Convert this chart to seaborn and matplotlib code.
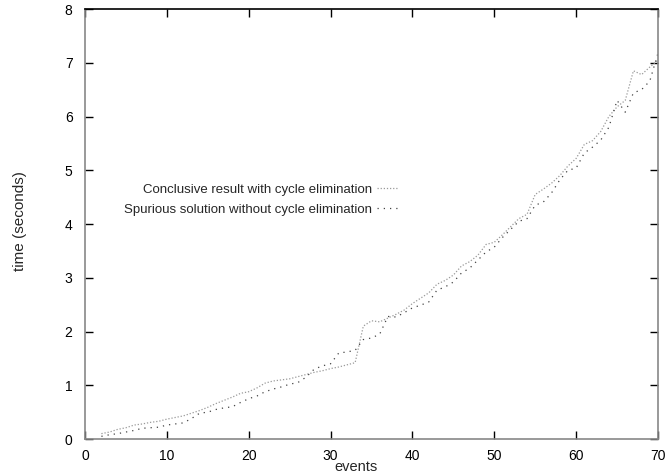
import numpy as np
import pandas as pd
import seaborn as sns
import matplotlib
matplotlib.use("Agg")
import matplotlib.pyplot as plt

events = list(range(2, 71))

# time (seconds)
conclusive = [0.10, 0.13, 0.18, 0.21, 0.26, 0.28, 0.31, 0.33, 0.37, 0.40,
              0.43, 0.48, 0.53, 0.59, 0.66, 0.72, 0.78, 0.85, 0.88, 0.95,
              1.04, 1.08, 1.10, 1.12, 1.16, 1.20, 1.24, 1.27, 1.31, 1.34,
              1.38, 1.42, 2.10, 2.20, 2.18, 2.25, 2.32, 2.40, 2.52, 2.62,
              2.72, 2.88, 2.95, 3.05, 3.22, 3.30, 3.42, 3.62, 3.66, 3.80,
              3.95, 4.10, 4.18, 4.55, 4.65, 4.76, 4.90, 5.08, 5.22, 5.48,
              5.55, 5.72, 6.00, 6.18, 6.30, 6.85, 6.78, 6.92, 7.05]
spurious = [0.05, 0.08, 0.10, 0.13, 0.16, 0.20, 0.21, 0.22, 0.26, 0.28,
            0.30, 0.38, 0.48, 0.50, 0.55, 0.58, 0.60, 0.68, 0.75, 0.80,
            0.88, 0.93, 0.97, 1.02, 1.05, 1.15, 1.30, 1.36, 1.40, 1.60,
            1.62, 1.65, 1.85, 1.88, 1.95, 2.28, 2.27, 2.35, 2.44, 2.49,
            2.55, 2.77, 2.83, 2.92, 3.09, 3.18, 3.33, 3.48, 3.57, 3.75,
            3.90, 4.05, 4.10, 4.35, 4.41, 4.58, 4.82, 5.00, 5.04, 5.32,
            5.43, 5.56, 5.80, 6.30, 6.08, 6.44, 6.50, 6.66, 7.18]

label_c = "Conclusive result with cycle elimination"
label_s = "Spurious solution without cycle elimination"

df = pd.DataFrame({
    "events": events * 2,
    "time": conclusive + spurious,
    "series": [label_c] * len(events) + [label_s] * len(events),
})

sns.set_style("ticks")
plt.rcParams["font.family"] = ["Liberation Sans", "DejaVu Sans"]

fig = plt.figure(figsize=(6.71, 4.74), dpi=100)
ax = fig.add_axes([0.1267, 0.0738, 0.8539, 0.9072])

sns.lineplot(data=df, x="events", y="time", hue="series", style="series",
             palette={label_c: "#9a9a9a", label_s: "#444444"},
             dashes={label_c: (1, 1.5), label_s: (1, 4)},
             linewidth=0.9, ax=ax)

ax.set_xlim(0, 70)
ax.set_ylim(0, 8)
ax.set_xticks(np.arange(0, 71, 10))
ax.set_yticks(np.arange(0, 9, 1))
ax.tick_params(direction="in", length=6, width=1, top=True, right=True,
               labelsize=10, colors="black")
ax.tick_params(axis="x", pad=7)
ax.tick_params(axis="y", pad=9)
for side in ["left", "right", "bottom"]:
    ax.spines[side].set_color("#888888")
ax.spines["top"].set_color("black")
for s in ax.spines.values():
    s.set_linewidth(1.2)

ax.set_xlabel("events", fontsize=10.5)
ax.set_ylabel("time (seconds)", fontsize=11)
ax.xaxis.set_label_coords(0.473, -0.049)
ax.yaxis.set_label_coords(-0.101, 0.507)

ax.legend(loc="center right", bbox_to_anchor=(0.545, 0.557), frameon=False,
          markerfirst=False, fontsize=9.5, handlelength=1.5,
          handletextpad=0.4, labelspacing=0.6, borderpad=0, borderaxespad=0)

fig.savefig("out.png", dpi=100)
